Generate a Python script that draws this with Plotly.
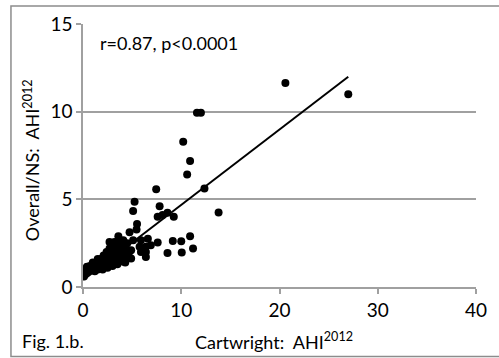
import plotly.graph_objects as go

# Cartwright AHI (x) vs Overall/NS AHI (y)
cartwright = [
    20.6, 27.0, 11.6, 12.0, 10.2, 10.9, 10.6, 7.45, 12.36, 13.8, 7.8, 7.6, 8.1, 8.6, 9.24,
    5.25, 5.1, 5.5, 5.45, 4.74, 3.6, 2.7, 3.2, 4.1, 5.1, 5.9, 6.6, 7.6, 9.14, 10.0, 10.9,
    11.2, 10.05, 8.6, 6.4, 6.4, 5.9, 6.4, 4.9, 4.9, 4.7, 6.9, 5.76,
    0.1, 0.1, 0.2, 0.3, 0.5, 0.6, 0.8, 0.9, 1.0, 1.1, 1.2, 1.3, 1.4, 1.5, 1.6, 1.7, 1.8,
    1.9, 2.0, 2.1, 2.2, 2.3, 2.4, 2.5, 2.6, 2.7, 2.8, 2.9, 3.0, 3.1, 3.2, 3.3, 3.4, 3.5,
    3.6, 3.7, 3.8, 3.9, 4.0, 4.1, 4.2, 4.3, 4.4, 4.5, 4.6, 1.0, 1.5, 2.0, 0.7, 2.5, 3.0,
    3.5, 0.4, 1.2, 2.2, 2.9, 3.4, 4.0,
]
overall_ns = [
    11.64, 11.0, 9.94, 9.94, 8.29, 7.18, 6.42, 5.58, 5.62, 4.25, 4.6, 4.0, 4.1, 4.23, 4.0,
    4.86, 4.33, 3.6, 3.28, 3.12, 2.9, 2.57, 2.57, 2.67, 2.67, 2.67, 2.75, 2.54, 2.63, 2.61, 2.9,
    2.19, 1.97, 1.94, 2.29, 1.71, 2.0, 2.0, 2.1, 1.62, 1.71, 2.38, 2.29,
    0.6, 1.0, 0.8, 0.95, 0.9, 1.0, 1.0, 1.1, 0.95, 1.2, 1.05, 1.3, 1.1, 1.0, 1.4, 1.2, 1.6,
    1.1, 1.3, 1.8, 1.5, 1.2, 2.0, 1.6, 1.3, 2.2, 1.8, 1.4, 2.4, 1.9, 1.5, 2.1, 1.7, 1.3,
    2.3, 1.9, 1.5, 2.6, 2.0, 1.7, 2.3, 1.4, 1.9, 2.5, 2.1, 1.4, 1.6, 1.0, 1.2, 1.1, 1.2,
    1.6, 1.15, 0.9, 1.25, 1.7, 2.2, 1.45,
]

trend_slope = 0.43
trend_intercept = 0.38
trend_x = [min(cartwright), max(cartwright)]
trend_y = [trend_slope * v + trend_intercept for v in trend_x]

x_ticks = [0, 10, 20, 30, 40]
y_ticks = [0, 5, 10, 15]

FONT = "Lato"
GRID = "#A0A0A0"

fig = go.Figure()
fig.add_trace(go.Scatter(x=cartwright, y=overall_ns, mode="markers",
                         marker=dict(color="black", size=8), showlegend=False))
fig.add_trace(go.Scatter(x=trend_x, y=trend_y, mode="lines",
                         line=dict(color="black", width=2), showlegend=False))

fig.update_layout(
    width=499, height=358,
    margin=dict(l=83.3, r=21.3, t=24, b=71.3),
    paper_bgcolor="white", plot_bgcolor="white",
    font=dict(family=FONT, size=18, color="black"),
    xaxis=dict(range=[0, 40], tickvals=x_ticks, showgrid=False, zeroline=False,
               showline=True, linecolor=GRID, linewidth=1.5,
               ticks="outside", ticklen=5, tickcolor=GRID, tickwidth=1.5,
               tickfont=dict(size=19)),
    yaxis=dict(range=[0, 15], tickvals=y_ticks, showgrid=True, gridcolor=GRID, gridwidth=1.5,
               zeroline=False, showline=True, linecolor=GRID, linewidth=1.5,
               ticks="outside", ticklen=5, tickcolor=GRID, tickwidth=1.5,
               tickfont=dict(size=19)),
    annotations=[
        dict(text="r=0.87, p<0.0001", xref="paper", yref="paper", x=0.037, y=0.928,
             xanchor="left", yanchor="middle", showarrow=False, font=dict(size=18)),
        dict(text="Overall/NS:  AHI<sup>2012</sup>", xref="paper", yref="paper",
             x=-0.130, y=0.482, textangle=-90, xanchor="center", yanchor="middle",
             showarrow=False, font=dict(size=18)),
        dict(text="Cartwright:  AHI<sup>2012</sup>", xref="paper", yref="paper",
             x=0.486, y=-0.207, xanchor="center", yanchor="middle", showarrow=False,
             font=dict(size=18)),
        dict(text="Fig. 1.b.", xref="paper", yref="paper", x=-0.1605, y=-0.207,
             xanchor="left", yanchor="middle", showarrow=False, font=dict(size=18)),
    ],
    shapes=[
        dict(type="rect", xref="paper", yref="paper", x0=-0.1833, x1=1.07,
             y0=-0.264, y1=1.0685, line=dict(color="#8C8C8C", width=1.5)),
    ],
)

fig.write_html("out.html", config={"displayModeBar": False},
               post_script="document.body.style.margin='0';document.body.style.overflow='hidden';")
